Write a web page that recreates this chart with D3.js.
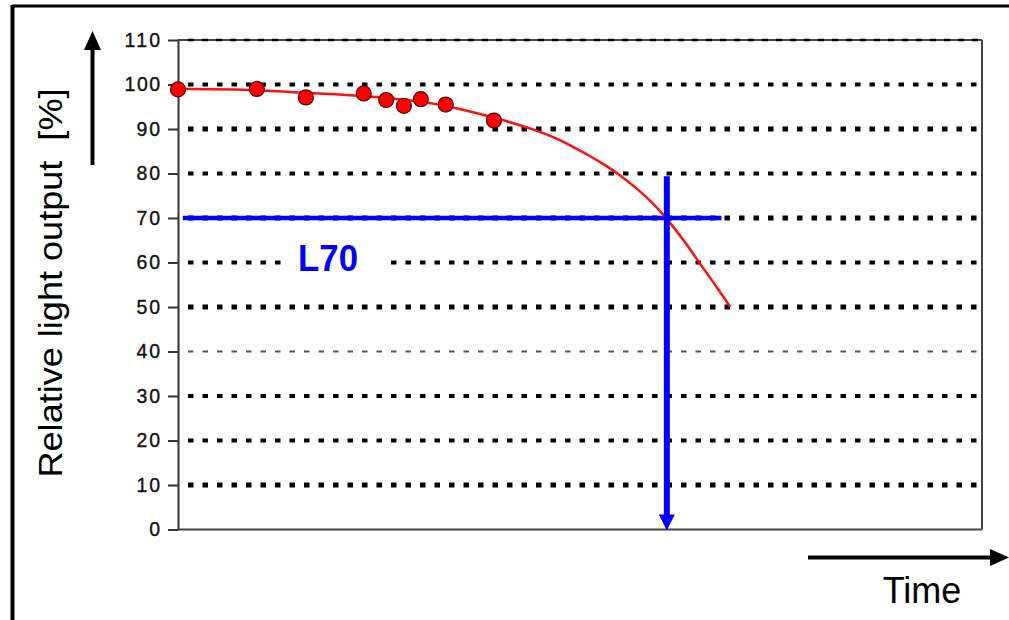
<!DOCTYPE html>
<html>
<head>
<meta charset="utf-8">
<script src="https://cdn.jsdelivr.net/npm/d3@7"></script>
<style>
  html, body { margin: 0; padding: 0; background: #fff; }
  svg { display: block; font-family: "Liberation Sans", Arial, sans-serif; }
</style>
</head>
<body>
<svg id="chart" width="1009" height="620"></svg>
<script>
// ---- data ----
const yTicks = [0, 10, 20, 30, 40, 50, 60, 70, 80, 90, 100, 110];
const measuredTime   = [0, 9.8, 15.9, 23.1, 25.9, 28.1, 30.2, 33.3, 39.3];
const measuredOutput = [98.9, 99.0, 97.1, 98.0, 96.5, 95.2, 96.7, 95.5, 91.9];
const fitTime   = [0, 9.0, 15.8, 23.1, 28.1, 33.3, 39.3, 42.9, 45.0, 47.1, 49.1, 51.2, 53.4, 55.3, 57.1, 59.1, 60.6, 62.8, 64.9, 66.8, 68.7];
const fitOutput = [99.0, 98.9, 98.1, 97.5, 96.6, 95.4, 92.6, 90.7, 89.4, 87.9, 86.0, 84.0, 81.6, 79.2, 76.6, 73.3, 70.3, 65.3, 59.8, 55.0, 50.0];
const l70Level = 70;
const l70LineTime = [0.6, 67.6];
const l70Time = 60.8;
const l70DropFrom = 79.4;
const yLabel = "Relative light output  [%]";
const xLabel = "Time";
const l70Label = "L70";

// grid line weights as they appear (heavy / medium / light)
const gridWeight = {10: 5, 20: 4, 30: 4, 40: 2, 50: 5, 60: 4, 70: 5, 80: 4, 90: 5, 100: 4};

const svg = d3.select("#chart");

// outer frame (top and left edges)
svg.append("line").attr("x1", 12).attr("x2", 1009).attr("y1", 6).attr("y2", 6)
  .attr("stroke", "#000").attr("stroke-width", 3);
svg.append("line").attr("x1", 12.5).attr("x2", 12.5).attr("y1", 5).attr("y2", 620)
  .attr("stroke", "#000").attr("stroke-width", 4);

const x = d3.scaleLinear().domain([0, 100]).range([178, 982]);
const y = d3.scaleLinear().domain([0, 110]).range([529.5, 40]);

// plot box right / top / bottom
const box = svg.append("g").attr("stroke", "#444").attr("stroke-width", 2).attr("fill", "none");
box.append("line").attr("x1", x(0)).attr("x2", x(100)).attr("y1", y(110)).attr("y2", y(110));
box.append("line").attr("x1", x(100)).attr("x2", x(100)).attr("y1", y(110)).attr("y2", y(0));
box.append("line").attr("x1", x(0)).attr("x2", x(100)).attr("y1", y(0)).attr("y2", y(0));

// dotted grid lines
const gridVals = yTicks.filter(v => v > 0 && v < 110);
svg.append("g").selectAll("line").data(gridVals).join("line")
  .attr("x1", x(0) + 10).attr("x2", x(100))
  .attr("y1", d => y(d)).attr("y2", d => y(d))
  .attr("stroke", d => gridWeight[d] <= 2 ? "#555" : "#000")
  .attr("stroke-width", d => gridWeight[d])
  .attr("stroke-dasharray", "5.5,9");
// top (110) dashed overlay
svg.append("line").attr("x1", x(0) + 10).attr("x2", x(100))
  .attr("y1", y(110)).attr("y2", y(110))
  .attr("stroke", "#000").attr("stroke-width", 2.5).attr("stroke-dasharray", "6,8");

// y axis
const yAxis = d3.axisLeft(y).tickValues(yTicks).tickSize(10).tickSizeOuter(0).tickPadding(8);
const ga = svg.append("g").attr("transform", `translate(${x(0)},0)`).call(yAxis);
ga.select(".domain").attr("stroke", "#333").attr("stroke-width", 2);
ga.selectAll(".tick line").attr("stroke", "#333").attr("stroke-width", 2);
ga.selectAll(".tick text").attr("fill", "#111").attr("font-size", 19.5)
  .attr("stroke", "#111").attr("stroke-width", 0.35)
  .attr("font-family", "'Liberation Sans', Arial, sans-serif")
  .attr("textLength", function(d){ return String(d).length * 11.8; });

// L70 horizontal line
svg.append("line")
  .attr("x1", x(l70LineTime[0])).attr("x2", x(l70LineTime[1]))
  .attr("y1", y(l70Level)).attr("y2", y(l70Level))
  .attr("stroke", "#0000ff").attr("stroke-width", 4.5);

// L70 label with white background
const lbl = svg.append("g");
lbl.append("rect").attr("x", 284).attr("y", 238).attr("width", 100).attr("height", 38).attr("fill", "#fff");
lbl.append("text").attr("x", 328).attr("y", 270.5).attr("text-anchor", "middle")
  .attr("font-size", 36).attr("font-weight", "bold").attr("fill", "#0000ff")
  .attr("textLength", 60).attr("lengthAdjust", "spacingAndGlyphs")
  .text(l70Label);

// fit curve
const line = d3.line().x(d => x(d[0])).y(d => y(d[1])).curve(d3.curveBasis);
svg.append("path").datum(fitTime.map((t, i) => [t, fitOutput[i]]))
  .attr("d", line).attr("fill", "none").attr("stroke", "#ff1010").attr("stroke-width", 2.5);

// vertical L70 arrow
svg.append("line")
  .attr("x1", x(l70Time)).attr("x2", x(l70Time))
  .attr("y1", y(l70DropFrom)).attr("y2", y(0) - 12)
  .attr("stroke", "#0000ff").attr("stroke-width", 6);
svg.append("path")
  .attr("d", `M${x(l70Time) - 8},${y(0) - 15} L${x(l70Time) + 8},${y(0) - 15} L${x(l70Time)},${y(0) + 1} Z`)
  .attr("fill", "#0000ff");

// measured points
svg.append("g").selectAll("circle").data(measuredTime.map((t, i) => [t, measuredOutput[i]])).join("circle")
  .attr("cx", d => x(d[0])).attr("cy", d => y(d[1])).attr("r", 7.5)
  .attr("fill", "#ff0000").attr("stroke", "#5a0000").attr("stroke-width", 1.2);

// y axis arrow & label
svg.append("line").attr("x1", 92.5).attr("x2", 92.5).attr("y1", 165).attr("y2", 46)
  .attr("stroke", "#000").attr("stroke-width", 4);
svg.append("path").attr("d", "M84,50 L101,50 L92.5,31 Z").attr("fill", "#000");
svg.append("text")
  .attr("transform", "translate(62,283) rotate(-90)")
  .attr("text-anchor", "middle").attr("font-size", 34).attr("fill", "#000")
  .attr("textLength", 389).attr("lengthAdjust", "spacingAndGlyphs")
  .style("white-space", "pre")
  .text(yLabel);

// time arrow & label
svg.append("line").attr("x1", 808).attr("x2", 994).attr("y1", 557.5).attr("y2", 557.5)
  .attr("stroke", "#000").attr("stroke-width", 4);
svg.append("path").attr("d", "M990,549 L1009,557.5 L990,566 Z").attr("fill", "#000");
svg.append("text").attr("x", 922).attr("y", 603).attr("text-anchor", "middle")
  .attr("font-size", 36).attr("fill", "#000").text(xLabel);
</script>
</body>
</html>
